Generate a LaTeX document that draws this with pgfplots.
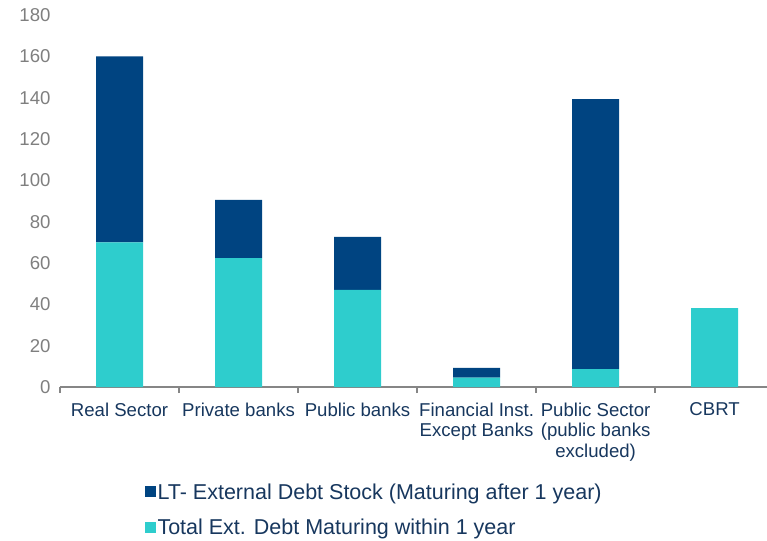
\documentclass[border=0pt]{standalone}
\usepackage{pgfplots}
\pgfplotsset{compat=1.18}
\usepackage{fontspec}
\setmainfont{Liberation Sans}
\definecolor{darkb}{HTML}{004481}
\definecolor{cyanb}{HTML}{2ECDCD}
\definecolor{navytxt}{HTML}{17375E}
\definecolor{axgray}{HTML}{868686}
\definecolor{lblgray}{HTML}{7F7F7F}
\begin{document}
\begin{tikzpicture}
\useasboundingbox (-60pt,-153pt) rectangle (707pt,387pt);
\begin{axis}[
  at={(0pt,0pt)}, anchor=south west,
  scale only axis, width=707pt, height=372pt,
  ybar stacked, bar width=47pt,
  xmin=-0.5, xmax=5.44, ymin=0, ymax=180,
  ytick={0,20,...,180},
  /pgf/number format/assume math mode=true,
  xtick={0,...,5},
  xticklabels={Real Sector, Private banks, Public banks, {Financial Inst.\\Except Banks}, {Public Sector\\(public banks\\excluded)}, CBRT},
  minor xtick={-0.5,0.5,...,5.5},
  tick align=outside,
  major tick length=0pt,
  minor tick length=6pt,
  minor x tick style={axgray, line width=1.3pt},
  axis x line*=bottom, axis y line*=left,
  y axis line style={draw=none},
  ytick style={draw=none},
  x axis line style={axgray, line width=1.5pt, -},
  xticklabel style={align=center, text=navytxt, font=\fontsize{18.6}{20.5}\selectfont, anchor=north, yshift=-12pt},
  yticklabel style={text=lblgray, font=\fontsize{18.6}{20}\selectfont, xshift=-6pt},
  legend style={draw=none, fill=none, at={(0.115,-0.248)}, anchor=north west,
    font=\fontsize{21.5}{23}\selectfont, text=navytxt, row sep=14pt,
    nodes={inner sep=2pt}},
  legend cell align=left,
  reverse legend,
  legend image code/.code={\fill[#1] (0pt,-5.5pt) rectangle (11pt,5.5pt);},
]
\addplot[fill=cyanb, draw=none] coordinates {(0,70) (1,62.4) (2,47) (3,4.5) (4,8.7) (5,38.2)};
\addlegendentry{Total Ext. Debt Maturing within 1 year}
\addplot[fill=darkb, draw=none] coordinates {(0,90) (1,28.1) (2,25.6) (3,4.7) (4,130.6) (5,0)};
\addlegendentry{LT- External Debt Stock (Maturing after 1 year)}
\end{axis}
\end{tikzpicture}
\end{document}
